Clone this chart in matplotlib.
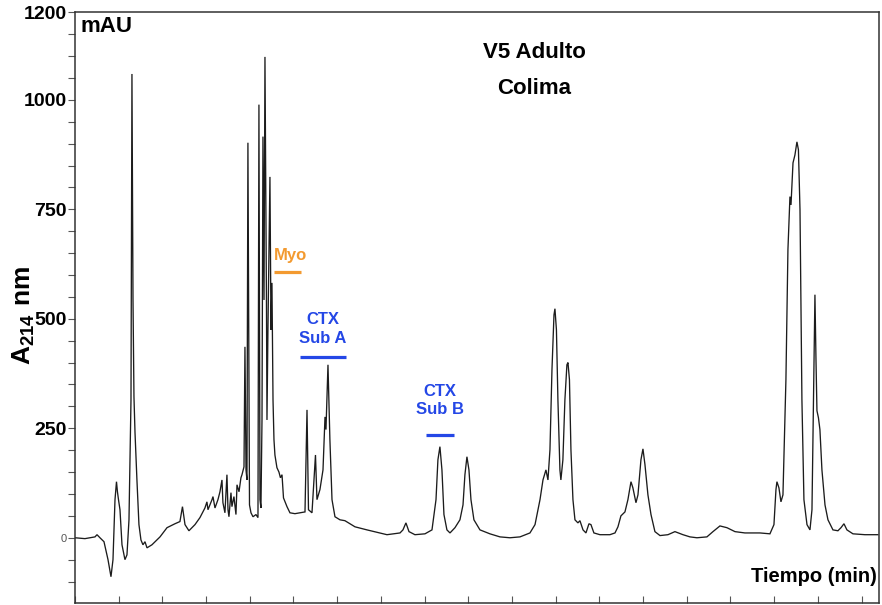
import matplotlib
matplotlib.use("Agg")
import matplotlib.pyplot as plt
from matplotlib.ticker import MultipleLocator

# Chromatogram trace: retention time (min) and absorbance at 214 nm (mAU)
time_min = [
    0.00, 1.14, 2.29, 2.52, 2.86, 3.32, 3.78, 4.12, 4.35, 4.58, 4.75, 4.86, 4.98,
    5.15, 5.38, 5.72, 5.95, 6.18, 6.41, 6.52, 6.64, 6.75, 6.87, 7.09, 7.32, 7.55,
    7.78, 8.01, 8.24, 8.81, 9.73, 10.53, 11.44, 12.01, 12.30, 12.59, 13.04, 13.73,
    14.30, 14.87, 15.10, 15.22, 15.68, 15.79, 16.02, 16.36, 16.59, 16.82, 16.93,
    17.16, 17.39, 17.51, 17.62, 17.85, 17.96, 18.19, 18.42, 18.54, 18.77, 18.99,
    19.11, 19.34, 19.45, 19.57, 19.68, 19.79, 19.97, 20.14, 20.37, 20.71, 20.94,
    21.05, 21.17, 21.28, 21.40, 21.51, 21.63, 21.74, 21.91, 21.97, 22.08, 22.31,
    22.43, 22.54, 22.66, 22.77, 22.88, 23.11, 23.34, 23.51, 23.69, 23.86, 24.26,
    24.60, 25.17, 25.74, 26.32, 26.55, 26.72, 27.12, 27.35, 27.52, 27.69, 28.03,
    28.38, 28.61, 28.72, 28.95, 29.17, 29.41, 29.75, 30.32, 30.89, 32.04, 33.41,
    35.70, 37.19, 37.53, 37.87, 38.22, 38.90, 40.05, 40.85, 41.31, 41.53, 41.76,
    41.99, 42.22, 42.56, 42.91, 43.48, 44.05, 44.40, 44.62, 44.85, 45.08, 45.31,
    45.65, 46.34, 47.48, 48.63, 49.77, 50.92, 52.06, 52.64, 53.21, 53.55, 53.89,
    54.12, 54.35, 54.58, 54.81, 54.92, 55.09, 55.26, 55.49, 55.60, 55.83, 56.06,
    56.29, 56.41, 56.58, 56.75, 56.98, 57.21, 57.55, 57.78, 58.13, 58.47, 58.81,
    59.04, 59.38, 60.07, 61.21, 61.79, 62.13, 62.47, 62.93, 63.27, 63.62, 63.84,
    64.19, 64.42, 64.76, 64.99, 65.22, 65.56, 65.91, 66.36, 66.94, 67.85, 68.65,
    69.57, 70.37, 71.17, 72.31, 73.00, 73.80, 74.60, 75.52, 76.66, 78.38, 79.52,
    79.98, 80.21, 80.32, 80.55, 80.78, 81.01, 81.35, 81.58, 81.81, 81.93, 82.16,
    82.38, 82.61, 82.78, 82.96, 83.18, 83.41, 83.76, 84.10, 84.33, 84.50, 84.67,
    84.79, 84.90, 85.07, 85.24, 85.47, 85.82, 86.16, 86.73, 87.30, 87.65, 87.99,
    88.33, 89.02, 90.39, 91.88,
]
absorbance_mau = [
    0, -2, 2, 7, 0, -9, -50, -89, -50, 87, 128, 105, 87,
    64, -16, -50, -39, 41, 315, 1059, 543, 322, 240, 132, 30, -5,
    -16, -9, -23, -16, 2, 23, 32, 37, 71, 30, 16, 30,
    46, 68, 82, 64, 87, 94, 68, 87, 105, 132, 80,
    57, 144, 64, 48, 103, 71, 94, 53, 121, 105, 137,
    144, 162, 436, 155, 132, 902, 75, 57, 48, 53, 46,
    989, 87, 68, 269, 916, 543, 1098, 543, 269, 475, 824,
    475, 582, 315, 224, 189, 160, 150, 137, 144, 91, 71,
    57, 55, 57, 59, 292, 64, 57, 132, 189, 87, 110,
    155, 276, 247, 395, 224, 87, 48, 41, 39, 25, 18,
    7, 11, 18, 34, 14, 7, 9, 18, 87, 178, 208,
    155, 53, 18, 11, 23, 41, 75, 144, 185, 155, 87,
    41, 18, 9, 2, 0, 2, 11, 30, 87, 132, 155,
    132, 201, 384, 509, 523, 475, 315, 155, 132, 178, 315,
    395, 400, 361, 201, 87, 41, 34, 39, 18, 11, 32,
    30, 11, 7, 7, 11, 25, 50, 59, 87, 128, 114,
    80, 98, 178, 203, 167, 98, 53, 14, 5, 7, 14,
    7, 2, 0, 2, 14, 27, 23, 14, 11, 11, 9,
    30, 110, 128, 114, 82, 98, 361, 658, 779, 760, 856,
    874, 904, 886, 749, 315, 87, 30, 18, 64, 315, 555,
    406, 290, 274, 247, 155, 75, 41, 18, 16, 23, 32,
    18, 9, 7, 7,
]

# Axis ticks
y_ticks = [0, 250, 500, 750, 1000, 1200]
y_tick_labels = ["0", "250", "500", "750", "1000", "1200"]

# Collected fractions: label and time window (min)
fraction_labels = ["Myo", "CTX\nSub A", "CTX\nSub B"]
fraction_start = [22.77, 25.74, 40.16]
fraction_end = [25.86, 31.01, 43.37]

FONT = ["Liberation Sans", "DejaVu Sans"]

plt.rcParams["font.family"] = FONT
plt.rcParams["mathtext.fontset"] = "custom"
plt.rcParams["mathtext.bf"] = "Liberation Sans:bold"
plt.rcParams["mathtext.rm"] = "Liberation Sans"

fig = plt.figure(figsize=(8.82, 6.05), dpi=100)
ax = fig.add_axes([0.085, 0.004, 0.9116, 0.9758])

ax.plot(time_min, absorbance_mau, color="#1c1c1c", lw=0.95, solid_joinstyle="miter")

ax.set_xlim(0, 92)
ax.set_ylim(-148, 1200)

for s in ax.spines.values():
    s.set_color("#333333")
    s.set_linewidth(1.1)

# y axis: bold labels, a tick every 50 mAU
ax.set_yticks(y_ticks, y_tick_labels)
ax.yaxis.set_minor_locator(MultipleLocator(50))
ax.tick_params(axis="y", which="both", direction="out", length=5, width=0.8,
               color="#555555", pad=1)
for lbl in ax.get_yticklabels():
    lbl.set_fontweight("bold")
    lbl.set_fontsize(14)
    if lbl.get_text() == "0":
        lbl.set_fontsize(8)
        lbl.set_fontweight("normal")
        lbl.set_color("#555555")

# x axis: unlabeled ticks every 5 min
ax.xaxis.set_major_locator(MultipleLocator(5))
ax.tick_params(axis="x", which="both", direction="in", length=5, width=0.8,
               color="#555555", labelbottom=False)

# Fraction markers
frac_colors = ["#f39a30", "#2447e6", "#2447e6"]
bar_levels = [607, 413, 235]
text_levels = [645, 477, 313]
for lab, t0, t1, col, yb, yt in zip(fraction_labels, fraction_start, fraction_end,
                                    frac_colors, bar_levels, text_levels):
    ax.plot([t0, t1], [yb, yb], color=col, lw=2.3, solid_capstyle="butt")
    ax.text((t0 + t1) / 2 + (0.3 if lab == "Myo" else 0), yt, lab, color=col,
            fontsize=12, fontweight="bold", ha="center",
            va="center", linespacing=1.3)

# Annotations
ax.text(0.007, 0.994, "mAU", transform=ax.transAxes, fontsize=16,
        fontweight="bold", ha="left", va="top")
ax.text(0.571, 0.932, "V5 Adulto", transform=ax.transAxes, fontsize=16,
        fontweight="bold", ha="center", va="center")
ax.text(0.571, 0.871, "Colima", transform=ax.transAxes, fontsize=16,
        fontweight="bold", ha="center", va="center")
ax.text(0.997, 0.044, "Tiempo (min)", transform=ax.transAxes, fontsize=14.5,
        fontweight="bold", ha="right", va="center")

fig.text(0.027, 0.478, r"$\mathbf{A_{214}\ nm}$", rotation=90, fontsize=19,
         ha="center", va="center")

fig.savefig("out.png", dpi=100)
